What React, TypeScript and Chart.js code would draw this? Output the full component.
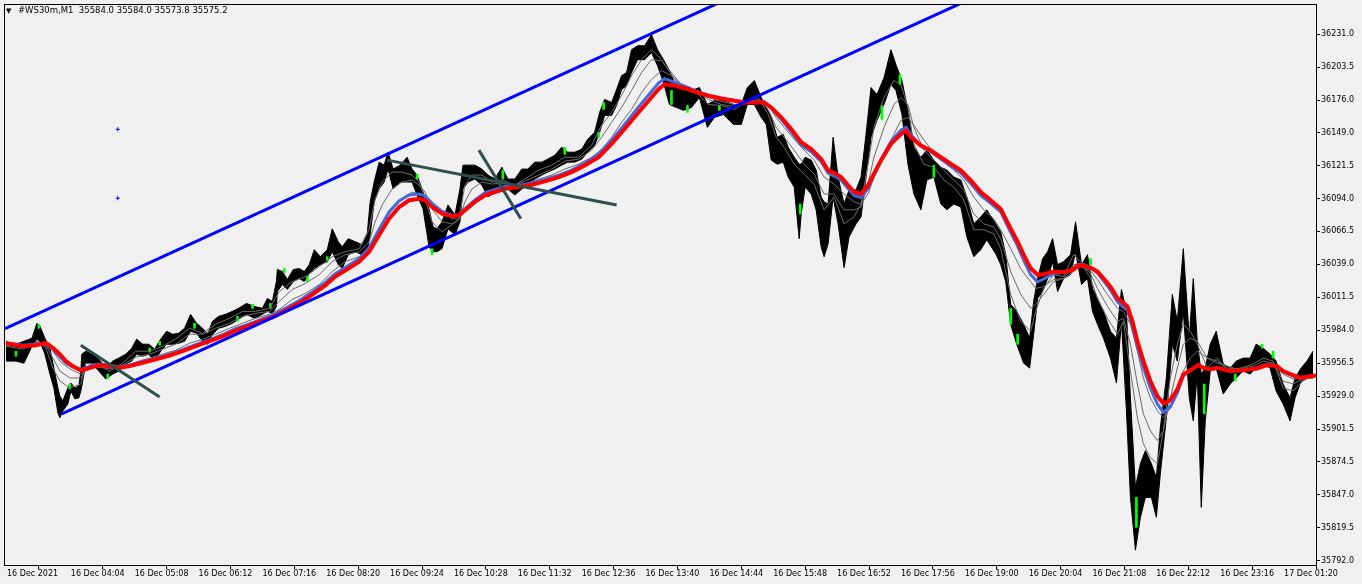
import React, { useEffect, useRef } from "react";
import { Chart, registerables } from "chart.js";

Chart.register(...registerables);

const FONT = '"DejaVu Sans", Verdana, sans-serif';
const HEADER_MARK = "▼";
const HEADER = "#WS30m,M1  35584.0 35584.0 35573.8 35575.2";

// x axis: minutes since the first label, one bar per minute
const xTickMinutes = [0, 64, 128, 192, 256, 320, 384, 448, 512, 576, 640, 704, 768, 832, 896, 960, 1024, 1088, 1152, 1216, 1280];
const xTickLabels = [
  "16 Dec 2021", "16 Dec 04:04", "16 Dec 05:08", "16 Dec 06:12", "16 Dec 07:16", "16 Dec 08:20",
  "16 Dec 09:24", "16 Dec 10:28", "16 Dec 11:32", "16 Dec 12:36", "16 Dec 13:40", "16 Dec 14:44",
  "16 Dec 15:48", "16 Dec 16:52", "16 Dec 17:56", "16 Dec 19:00", "16 Dec 20:04", "16 Dec 21:08",
  "16 Dec 22:12", "16 Dec 23:16", "17 Dec 01:20",
];
const yTickLabels = [
  "36231.0", "36203.5", "36176.0", "36149.0", "36121.5", "36094.0", "36066.5", "36039.0", "36011.5",
  "35984.0", "35956.5", "35929.0", "35901.5", "35874.5", "35847.0", "35819.5", "35792.0",
];

// price range (high / low) sampled along the session
const priceMinute = [
  -1, 3, 9, 17, 25, 30, 33, 38, 43, 47,
  51, 53, 56, 61, 64, 68, 72, 74, 75, 79,
  86, 92, 99, 106, 112, 119, 125, 130, 136, 142,
  148, 154, 160, 166, 172, 178, 184, 190, 196, 201,
  206, 212, 219, 226, 232, 240, 248, 256, 261, 266,
  270, 271, 276, 281, 287, 293, 298, 303, 308, 314,
  321, 326, 332, 336, 342, 349, 356, 361, 364, 368,
  373, 378, 382, 387, 394, 401, 406, 411, 417, 423,
  427, 431, 436, 442, 449, 454, 457, 462, 469, 476,
  482, 489, 496, 502, 509, 516, 522, 529, 536, 542,
  549, 556, 562, 569, 576, 582, 589, 594, 599, 606,
  611, 616, 621, 626, 632, 639, 646, 652, 658, 664,
  671, 678, 686, 694, 702, 709, 718, 728, 736, 742,
  749, 756, 761, 766, 772, 778, 783, 789, 794, 796,
  800, 806, 811, 816, 819, 823, 828, 833, 839, 844,
  851, 856, 861, 866, 872, 879, 886, 891, 897, 903,
  909, 916, 922, 929, 936, 942, 949, 956, 962, 969,
  976, 982, 991, 996, 1001, 1006, 1012, 1019, 1025, 1029,
  1033, 1038, 1043, 1048, 1053, 1059, 1066, 1071, 1077, 1083,
  1088, 1093, 1099, 1106, 1112, 1117, 1122, 1126, 1131, 1136,
  1141, 1147, 1152, 1156, 1162, 1168, 1173, 1179, 1185, 1189,
  1193, 1197, 1201, 1206, 1212, 1219, 1226, 1232, 1239, 1246,
  1252, 1259, 1266, 1272, 1279, 1286, 1291, 1297, 1303, 1309,
];
const priceHigh = [
  35974.9, 35973.2, 35972.4, 35974.9, 35977.4, 35989.8, 35987.3, 35977.4, 35969.1, 35952.5,
  35935.9, 35929.2, 35925.1, 35935.9, 35940.0, 35935.9, 35937.5, 35950.0, 35964.1, 35966.6,
  35964.1, 35960.0, 35952.5, 35958.3, 35960.8, 35964.1, 35969.1, 35976.6, 35972.4, 35972.4,
  35968.3, 35976.6, 35983.2, 35980.7, 35981.5, 35985.7, 35997.3, 35989.8, 35985.7, 35980.7,
  35991.5, 35995.6, 35997.3, 35999.8, 36002.3, 36006.4, 36003.9, 36002.3, 36010.6, 36008.1,
  36024.7, 36034.7, 36033.0, 36026.4, 36034.7, 36035.5, 36033.0, 36038.8, 36051.3, 36045.4,
  36051.3, 36068.7, 36057.9, 36053.7, 36060.4, 36057.9, 36055.4, 36063.7, 36091.1, 36107.7,
  36124.3, 36121.8, 36132.6, 36118.5, 36121.8, 36128.4, 36118.5, 36113.5, 36099.4, 36085.3,
  36070.3, 36068.7, 36074.5, 36088.6, 36080.3, 36101.9, 36121.8, 36121.8, 36121.8, 36118.5,
  36113.5, 36110.2, 36120.1, 36110.2, 36110.2, 36118.5, 36118.5, 36124.3, 36124.3, 36126.8,
  36130.1, 36136.7, 36132.6, 36132.6, 36135.1, 36143.4, 36149.2, 36165.8, 36176.6, 36174.1,
  36184.9, 36196.5, 36199.0, 36218.1, 36221.4, 36221.4, 36230.5, 36218.1, 36209.8, 36200.7,
  36186.5, 36184.1, 36184.1, 36186.5, 36172.4, 36175.8, 36175.8, 36172.4, 36172.4, 36186.5,
  36192.4, 36178.2, 36169.9, 36161.6, 36145.0, 36147.5, 36136.7, 36128.4, 36122.6, 36122.6,
  36128.4, 36126.0, 36117.7, 36095.2, 36091.1, 36089.4, 36145.0, 36111.8, 36089.4, 36101.1,
  36101.1, 36111.8, 36147.5, 36186.5, 36180.7, 36194.8, 36218.1, 36205.6, 36192.4, 36167.5,
  36136.7, 36128.4, 36134.3, 36126.0, 36120.1, 36117.7, 36111.8, 36109.4, 36095.2, 36072.8,
  36078.6, 36084.5, 36072.8, 36066.2, 36047.1, 36005.6, 35999.8, 35989.0, 35977.4, 36008.1,
  36027.2, 36043.8, 36049.6, 36060.4, 36038.8, 36041.3, 36047.1, 36074.5, 36038.8, 36047.1,
  36018.9, 36010.6, 35999.8, 35983.2, 35977.4, 36018.1, 35999.8, 35927.6, 35852.9, 35872.8,
  35883.6, 35872.8, 35861.2, 35902.7, 35944.2, 36013.9, 35991.5, 36052.1, 35977.4, 36027.2,
  35974.9, 35947.5, 35952.5, 35972.4, 35983.2, 35955.8, 35952.5, 35958.3, 35960.8, 35960.8,
  35972.4, 35969.1, 35964.1, 35958.3, 35939.2, 35927.6, 35944.2, 35952.5, 35958.3, 35966.6,
];
const priceLow = [
  35958.3, 35958.3, 35958.3, 35956.6, 35970.7, 35976.6, 35974.9, 35964.1, 35947.5, 35935.9,
  35915.1, 35911.0, 35916.8, 35922.6, 35933.4, 35926.8, 35927.6, 35933.4, 35937.5, 35956.6,
  35955.8, 35950.0, 35943.4, 35947.5, 35950.0, 35955.8, 35958.3, 35964.1, 35962.4, 35964.1,
  35958.3, 35966.6, 35972.4, 35972.4, 35973.2, 35974.9, 35983.2, 35981.5, 35974.9, 35972.4,
  35980.7, 35985.7, 35987.3, 35989.8, 35993.2, 35997.3, 35994.0, 35997.3, 35999.8, 35998.1,
  36003.9, 36016.4, 36022.2, 36018.1, 36024.7, 36027.2, 36024.7, 36031.3, 36035.5, 36038.8,
  36041.3, 36049.6, 36038.8, 36035.5, 36047.1, 36049.6, 36047.1, 36049.6, 36063.7, 36091.1,
  36101.9, 36107.7, 36118.5, 36101.9, 36107.7, 36107.7, 36107.7, 36096.9, 36085.3, 36053.7,
  36049.6, 36049.6, 36052.1, 36068.7, 36063.7, 36074.5, 36101.9, 36107.7, 36110.2, 36105.2,
  36095.2, 36099.4, 36101.9, 36101.9, 36096.9, 36101.9, 36105.2, 36110.2, 36113.5, 36116.0,
  36118.5, 36121.8, 36124.3, 36124.3, 36126.8, 36132.6, 36138.4, 36149.2, 36163.3, 36163.3,
  36171.6, 36184.9, 36188.2, 36199.0, 36209.8, 36209.8, 36215.6, 36204.8, 36190.7, 36172.4,
  36169.9, 36167.5, 36169.9, 36178.2, 36153.3, 36161.6, 36164.1, 36155.8, 36155.8, 36172.4,
  36172.4, 36161.6, 36155.8, 36126.0, 36122.6, 36124.3, 36111.8, 36103.5, 36060.4, 36081.1,
  36103.5, 36097.7, 36084.5, 36053.7, 36045.4, 36056.2, 36095.2, 36072.8, 36036.3, 36062.0,
  36072.8, 36078.6, 36111.8, 36145.0, 36159.2, 36172.4, 36189.0, 36184.1, 36164.1, 36122.6,
  36097.7, 36084.5, 36109.4, 36111.8, 36089.4, 36084.5, 36089.4, 36086.9, 36062.0, 36045.4,
  36051.3, 36059.6, 36047.9, 36038.8, 36024.7, 35989.0, 35972.4, 35956.6, 35952.5, 35980.7,
  36010.6, 36016.4, 36027.2, 36041.3, 36016.4, 36027.2, 36030.5, 36049.6, 36022.2, 36027.2,
  35999.8, 35989.0, 35977.4, 35960.8, 35940.0, 35991.5, 35916.8, 35844.6, 35800.6, 35828.0,
  35844.6, 35844.6, 35828.0, 35864.5, 35911.0, 35972.4, 35958.3, 35999.8, 35927.6, 35908.5,
  35947.5, 35836.3, 35908.5, 35950.0, 35952.5, 35930.9, 35939.2, 35944.2, 35950.0, 35947.5,
  35952.5, 35955.8, 35952.5, 35933.4, 35922.6, 35908.5, 35927.6, 35941.7, 35944.2, 35944.2,
];

// green (bullish) candle bodies that stand out
const upMinute = [9, 32, 63, 101, 143, 153, 188, 231, 246, 264, 278, 301, 321, 411, 426, 497, 559, 593, 598, 666, 682, 714, 795, 877, 895, 929, 1006, 1013, 1086, 1132, 1200, 1231, 1258, 1269];
const upHigh = [35966.6, 35989.0, 35939.2, 35947.5, 35969.1, 35974.9, 35989.8, 35995.6, 36005.6, 36006.4, 36035.5, 36028.8, 36045.4, 36114.3, 36052.1, 36117.7, 36136.7, 36149.2, 36174.1, 36184.1, 36171.6, 36171.6, 36089.4, 36171.6, 36197.3, 36121.8, 36002.3, 35980.7, 36043.8, 35844.6, 35939.2, 35947.5, 35972.4, 35966.6];
const upLow = [35962.4, 35985.7, 35935.1, 35943.4, 35965.8, 35971.6, 35985.7, 35991.5, 36002.3, 36002.3, 36032.2, 36024.7, 36042.1, 36110.2, 36047.1, 36110.2, 36130.9, 36145.0, 36168.3, 36172.4, 36165.8, 36167.5, 36081.1, 36160.0, 36189.0, 36111.8, 35989.0, 35972.4, 36038.8, 35819.7, 35914.3, 35941.7, 35969.1, 35960.8];

// slow moving averages (red = slowest, blue = next)
const maMinute = [
  -1, 16, 29, 39, 46, 53, 59, 66, 74, 83,
  93, 103, 113, 123, 136, 149, 163, 176, 189, 203,
  216, 229, 243, 256, 266, 279, 293, 306, 319, 329,
  339, 353, 363, 373, 383, 393, 403, 413, 419, 426,
  436, 446, 453, 459, 469, 479, 489, 499, 513, 526,
  539, 553, 566, 579, 593, 606, 619, 633, 643, 653,
  659, 669, 683, 689, 703, 716, 729, 739, 749, 759,
  766, 776, 786, 796, 806, 816, 823, 829, 836, 843,
  849, 856, 863, 869, 876, 886, 896, 901, 906, 916,
  926, 936, 946, 956, 966, 976, 986, 996, 1006, 1013,
  1019, 1026, 1033, 1039, 1049, 1059, 1068, 1073, 1079, 1086,
  1093, 1099, 1106, 1113, 1118, 1123, 1128, 1133, 1139, 1146,
  1153, 1159, 1166, 1173, 1179, 1186, 1194, 1199, 1206, 1213,
  1219, 1226, 1239, 1253, 1263, 1273, 1279, 1289, 1296, 1306,
  1312,
];
const redMA = [
  35973.4, 35970.7, 35971.6, 35973.4, 35969.3, 35964.1, 35958.3, 35954.1, 35950.6, 35952.7,
  35955.0, 35954.1, 35952.7, 35954.1, 35956.9, 35959.7, 35963.0, 35966.6, 35970.7, 35974.9,
  35979.0, 35983.8, 35988.2, 35992.3, 35994.8, 36000.4, 36006.7, 36013.7, 36021.4, 36028.8,
  36033.8, 36041.3, 36049.6, 36063.5, 36077.2, 36086.9, 36092.5, 36093.8, 36092.5, 36086.9,
  36081.4, 36079.2, 36080.1, 36084.2, 36091.1, 36096.7, 36099.4, 36102.1, 36103.5, 36105.5,
  36108.3, 36111.8, 36116.0, 36121.6, 36128.4, 36139.5, 36151.9, 36165.8, 36175.5, 36185.1,
  36189.3, 36188.2, 36185.1, 36183.2, 36179.7, 36177.4, 36175.5, 36174.1, 36174.1, 36174.1,
  36169.9, 36161.6, 36151.9, 36140.9, 36135.3, 36127.0, 36117.4, 36115.2, 36111.8, 36105.0,
  36099.4, 36098.0, 36105.0, 36114.6, 36125.7, 36139.5, 36147.8, 36150.6, 36145.0, 36138.2,
  36134.0, 36128.4, 36122.9, 36117.4, 36109.1, 36099.4, 36092.5, 36085.3, 36068.9, 36057.9,
  36046.9, 36035.7, 36030.3, 36030.8, 36033.0, 36032.4, 36034.4, 36038.0, 36038.0, 36036.3,
  36033.0, 36027.4, 36020.5, 36010.8, 36007.5, 36003.9, 35991.5, 35974.9, 35958.3, 35941.7,
  35929.2, 35922.9, 35925.7, 35934.8, 35947.3, 35950.6, 35955.0, 35952.7, 35951.4, 35952.7,
  35951.4, 35950.0, 35950.6, 35952.2, 35955.0, 35954.1, 35950.0, 35946.7, 35944.4, 35945.6,
  35946.4,
];
const blueMA = [
  35973.2, 35971.6, 35972.4, 35972.0, 35968.3, 35962.0, 35956.6, 35953.3, 35951.2, 35954.1,
  35955.8, 35954.6, 35953.3, 35955.0, 35957.9, 35960.8, 35964.1, 35967.8, 35972.0, 35976.1,
  35980.3, 35985.3, 35989.4, 35993.6, 35996.5, 36002.3, 36008.9, 36016.0, 36023.9, 36031.3,
  36036.3, 36043.8, 36052.9, 36068.3, 36082.8, 36091.9, 36096.9, 36097.7, 36096.1, 36089.9,
  36083.2, 36079.9, 36080.3, 36085.3, 36092.8, 36098.6, 36101.5, 36104.0, 36104.8, 36106.9,
  36109.8, 36113.5, 36117.7, 36123.5, 36130.9, 36142.6, 36155.8, 36170.4, 36180.3, 36190.3,
  36194.0, 36191.1, 36186.5, 36184.1, 36179.9, 36177.4, 36175.8, 36174.5, 36174.9, 36174.5,
  36169.1, 36160.0, 36149.6, 36138.4, 36133.0, 36124.7, 36115.2, 36112.7, 36109.4, 36102.3,
  36096.5, 36094.8, 36102.3, 36113.5, 36126.4, 36141.7, 36150.9, 36153.3, 36147.1, 36138.0,
  36133.0, 36126.8, 36121.0, 36115.2, 36106.5, 36096.5, 36089.9, 36082.8, 36065.8, 36054.2,
  36042.5, 36030.5, 36024.3, 36026.8, 36031.3, 36032.2, 36034.7, 36038.8, 36038.8, 36036.3,
  36031.8, 36025.5, 36017.6, 36007.7, 36003.9, 36000.6, 35987.3, 35969.9, 35952.9, 35935.9,
  35922.6, 35915.6, 35920.1, 35931.7, 35945.8, 35950.8, 35955.4, 35952.9, 35951.2, 35952.9,
  35951.2, 35950.0, 35950.4, 35952.5, 35955.4, 35954.1, 35949.6, 35945.8, 35943.8, 35945.4,
  35946.3,
];

// faster averages of the ribbon (thin grey lines)
const ribbonMinute = [
  -1, 16, 31, 39, 46, 53, 63, 74, 79, 89,
  103, 116, 129, 143, 156, 169, 183, 196, 209, 223,
  236, 249, 263, 273, 286, 299, 313, 326, 339, 353,
  363, 369, 376, 386, 396, 406, 413, 419, 426, 436,
  446, 453, 459, 466, 476, 486, 496, 509, 519, 533,
  546, 559, 573, 586, 596, 606, 616, 626, 636, 646,
  656, 666, 676, 689, 703, 716, 729, 743, 753, 763,
  771, 779, 789, 799, 809, 819, 829, 839, 849, 856,
  863, 869, 879, 889, 896, 903, 909, 919, 929, 939,
  949, 959, 969, 979, 989, 996, 1006, 1016, 1026, 1031,
  1039, 1049, 1059, 1069, 1076, 1086, 1093, 1103, 1113, 1119,
  1126, 1133, 1139, 1146, 1153, 1159, 1166, 1173, 1179, 1186,
  1193, 1203, 1213, 1223, 1236, 1249, 1259, 1269, 1279, 1289,
  1299, 1311,
];
const ribbonFast = [
  35970.7, 35968.3, 35974.9, 35969.1, 35952.5, 35941.7, 35935.9, 35939.2, 35956.6, 35955.8,
  35950.0, 35956.6, 35966.6, 35966.6, 35970.7, 35976.6, 35985.7, 35981.5, 35989.0, 35994.0,
  35999.8, 35999.8, 36002.3, 36016.4, 36024.7, 36028.8, 36037.1, 36045.4, 36049.6, 36052.1,
  36068.7, 36093.6, 36107.7, 36116.0, 36116.0, 36113.5, 36107.7, 36093.6, 36074.5, 36066.2,
  36072.0, 36077.0, 36105.2, 36113.5, 36113.5, 36107.7, 36109.4, 36105.2, 36110.2, 36117.7,
  36121.8, 36128.4, 36128.4, 36138.4, 36155.0, 36165.8, 36179.9, 36196.5, 36209.8, 36218.1,
  36209.8, 36197.3, 36186.5, 36184.1, 36172.4, 36171.6, 36168.3, 36175.8, 36178.2, 36164.1,
  36145.0, 36136.7, 36122.6, 36114.3, 36106.0, 36084.5, 36095.2, 36072.8, 36078.6, 36089.4,
  36122.6, 36153.3, 36178.2, 36192.4, 36189.0, 36169.9, 36139.2, 36122.6, 36120.1, 36109.4,
  36103.5, 36092.8, 36067.9, 36067.9, 36064.5, 36052.1, 36013.9, 35991.5, 35983.2, 35999.8,
  36018.9, 36030.5, 36028.8, 36047.1, 36041.3, 36027.2, 36010.6, 35994.0, 35980.7, 35991.5,
  35950.0, 35911.0, 35889.4, 35877.8, 35872.8, 35900.2, 35944.2, 35972.4, 35989.0, 35983.2,
  35972.4, 35952.5, 35960.8, 35950.0, 35952.5, 35955.8, 35960.8, 35958.3, 35935.9, 35933.4,
  35941.7, 35947.5,
];
const ribbonMid = [
  35971.6, 35969.9, 35974.1, 35971.6, 35960.8, 35950.0, 35944.2, 35944.2, 35952.5, 35955.0,
  35951.7, 35955.0, 35961.6, 35964.1, 35968.3, 35972.4, 35980.7, 35980.7, 35985.7, 35989.8,
  35995.6, 35998.1, 35999.8, 36008.1, 36018.1, 36023.0, 36030.5, 36041.3, 36047.1, 36049.6,
  36057.9, 36074.5, 36088.6, 36101.9, 36107.7, 36109.4, 36105.2, 36099.4, 36085.3, 36074.5,
  36072.8, 36076.2, 36091.1, 36101.9, 36107.7, 36106.0, 36106.9, 36105.2, 36108.5, 36113.5,
  36118.5, 36125.1, 36126.8, 36134.3, 36145.0, 36157.5, 36169.9, 36184.1, 36199.0, 36209.8,
  36209.0, 36199.0, 36189.0, 36184.9, 36176.6, 36172.4, 36170.8, 36174.1, 36176.6, 36168.3,
  36153.3, 36145.0, 36134.3, 36122.6, 36114.3, 36097.7, 36097.7, 36084.5, 36084.5, 36086.9,
  36106.0, 36128.4, 36153.3, 36172.4, 36178.2, 36172.4, 36153.3, 36134.3, 36126.0, 36117.7,
  36109.4, 36101.1, 36081.1, 36072.8, 36070.3, 36060.4, 36033.0, 36013.9, 36002.3, 36005.6,
  36013.9, 36024.7, 36027.2, 36038.8, 36039.6, 36031.3, 36018.9, 36003.9, 35991.5, 35994.0,
  35972.4, 35939.2, 35914.3, 35900.2, 35891.9, 35900.2, 35927.6, 35952.5, 35972.4, 35977.4,
  35974.9, 35960.8, 35958.3, 35952.5, 35951.7, 35954.1, 35958.3, 35956.6, 35941.7, 35939.2,
  35943.4, 35945.8,
];
const ribbonSlow = [
  35972.4, 35970.7, 35973.2, 35972.4, 35966.6, 35958.3, 35951.7, 35947.5, 35950.0, 35953.3,
  35952.5, 35953.3, 35957.5, 35960.8, 35964.1, 35967.4, 35973.2, 35976.6, 35980.7, 35985.7,
  35989.8, 35994.0, 35997.3, 36001.5, 36009.8, 36014.7, 36022.2, 36033.0, 36041.3, 36045.4,
  36051.3, 36060.4, 36072.0, 36085.3, 36093.6, 36099.4, 36097.7, 36096.9, 36091.1, 36082.8,
  36077.0, 36077.0, 36082.8, 36089.4, 36096.9, 36101.1, 36103.5, 36104.4, 36106.0, 36110.2,
  36113.5, 36118.5, 36122.6, 36128.4, 36135.1, 36145.0, 36157.5, 36168.3, 36182.4, 36193.2,
  36200.7, 36196.5, 36189.0, 36184.1, 36178.2, 36174.9, 36172.4, 36173.3, 36174.9, 36171.6,
  36161.6, 36153.3, 36143.4, 36134.3, 36126.0, 36111.8, 36106.0, 36097.7, 36091.1, 36089.4,
  36097.7, 36111.8, 36130.9, 36147.5, 36159.2, 36161.6, 36155.0, 36142.6, 36132.6, 36124.3,
  36117.7, 36109.4, 36095.2, 36084.5, 36077.0, 36067.9, 36052.1, 36035.5, 36024.7, 36018.9,
  36020.5, 36026.4, 36027.2, 36033.0, 36037.1, 36033.8, 36026.4, 36013.9, 36002.3, 35999.8,
  35989.0, 35966.6, 35944.2, 35927.6, 35916.8, 35911.0, 35919.3, 35933.4, 35950.0, 35960.8,
  35966.6, 35960.8, 35956.6, 35954.1, 35950.8, 35952.5, 35955.8, 35955.0, 35947.5, 35943.4,
  35944.2, 35945.8,
];

// drawn objects: channel rays, trend lines and two cross markers
const channelUpperMinute = [-2, 800];
const channelUpperPrice = [35985.3, 36290.1];
const channelLowerMinute = [54.3, 1000];
const channelLowerPrice = [35914.1, 36273.5];
const trend1Minute = [74, 153];
const trend1Price = [35971.6, 35928.4];
const trend2Minute = [381, 611];
const trend2Price = [36126.0, 36088.6];
const trend3Minute = [473, 515];
const trend3Price = [36134.3, 36077.0];
const markerMinute = [111, 111];
const markerPrice = [36151.7, 36094.2];

const xy = (xs: number[], ys: number[]) => xs.map((x, i) => ({ x, y: ys[i] }));

function lineSet(label: string, data: any[], color: string, width: number, order: number, extra: any = {}) {
  return {
    type: "line",
    label,
    data,
    borderColor: color,
    backgroundColor: color,
    borderWidth: width,
    pointRadius: 0,
    tension: 0,
    fill: false,
    order,
    clip: 0,
    ...extra,
  };
}

export default function App() {
  const ref = useRef<HTMLCanvasElement>(null);

  useEffect(() => {
    document.body.style.margin = "0";
    document.body.style.background = "#f0f0f0";
    const canvas = ref.current;
    if (!canvas) return;

    const framePlugin = {
      id: "mtFrame",
      beforeDraw(chart: any) {
        const { ctx, width, height } = chart;
        ctx.save();
        ctx.fillStyle = "#f0f0f0";
        ctx.fillRect(0, 0, width, height);
        ctx.restore();
      },
      afterDraw(chart: any) {
        const { ctx, chartArea: a } = chart;
        ctx.save();
        ctx.strokeStyle = "#000";
        ctx.lineWidth = 1;
        ctx.strokeRect(a.left - 0.5, a.top - 0.5, a.right - a.left + 1, a.bottom - a.top + 1);
        ctx.fillStyle = "#000";
        ctx.textBaseline = "middle";
        ctx.textAlign = "left";
        ctx.font = `7px ${FONT}`;
        ctx.fillText(HEADER_MARK, 6, 11);
        ctx.font = `8.5px ${FONT}`;
        ctx.fillText(HEADER, 18, 11);
        ctx.restore();
      },
    };

    const datasets: any[] = [
      lineSet("High", xy(priceMinute, priceHigh), "#000", 1, 20, { fill: "+1", backgroundColor: "#000" }),
      lineSet("Low", xy(priceMinute, priceLow), "#000", 1, 20),
      {
        type: "bar",
        label: "Up candles",
        data: upMinute.map((x, i) => ({ x, y: [upLow[i], upHigh[i]] })),
        backgroundColor: "#00ff00",
        borderWidth: 0,
        barThickness: 2,
        order: 15,
        clip: 0,
      },
      lineSet("Ribbon fast", xy(ribbonMinute, ribbonFast), "#6a6a6a", 1, 12),
      lineSet("Ribbon mid", xy(ribbonMinute, ribbonMid), "#6a6a6a", 1, 11),
      lineSet("Ribbon slow", xy(ribbonMinute, ribbonSlow), "#6a6a6a", 1, 10),
      lineSet("Blue MA", xy(maMinute, blueMA), "#4169e1", 3, 6),
      lineSet("Red MA", xy(maMinute, redMA), "#ff0000", 4, 5),
      lineSet("Channel upper", xy(channelUpperMinute, channelUpperPrice), "#0000ff", 3, 2),
      lineSet("Channel lower", xy(channelLowerMinute, channelLowerPrice), "#0000ff", 3, 2),
      lineSet("Trend 1", xy(trend1Minute, trend1Price), "#2f4f4f", 3, 1),
      lineSet("Trend 2", xy(trend2Minute, trend2Price), "#2f4f4f", 3, 1),
      lineSet("Trend 3", xy(trend3Minute, trend3Price), "#2f4f4f", 3, 1),
      {
        type: "scatter",
        label: "Markers",
        data: xy(markerMinute, markerPrice),
        pointStyle: "cross",
        pointRadius: 2,
        borderWidth: 1,
        borderColor: "#0000ff",
        backgroundColor: "#0000ff",
        order: 0,
        clip: 0,
      },
    ];

    const tickFont = { family: FONT, size: 8 };

    const chart = new Chart(canvas, {
      type: "line",
      data: { datasets },
      plugins: [framePlugin],
      options: {
        responsive: false,
        animation: false,
        events: [],
        devicePixelRatio: 1,
        layout: { padding: { left: 2, top: 2, right: 0, bottom: 0 } },
        plugins: { legend: { display: false }, tooltip: { enabled: false }, title: { display: false } },
        scales: {
          x: {
            type: "linear",
            min: -2,
            max: 1312,
            offset: false,
            afterBuildTicks: (s: any) => {
              s.ticks = xTickMinutes.map((v) => ({ value: v }));
            },
            afterFit: (s: any) => {
              s.height = 19;
              s.paddingLeft = 0;
              s.paddingRight = 0;
              s.paddingTop = 0;
              s.paddingBottom = 0;
            },
            ticks: {
              autoSkip: false,
              maxRotation: 0,
              minRotation: 0,
              align: "start",
              padding: 0,
              color: "#000",
              font: tickFont,
              callback: (_v: any, i: number) => xTickLabels[i],
            },
            grid: { drawOnChartArea: false, drawTicks: true, tickLength: 4, color: "#000" },
            border: { display: false },
          },
          y: {
            type: "linear",
            position: "right",
            min: 35788.2,
            max: 36255.4,
            afterBuildTicks: (s: any) => {
              s.ticks = yTickLabels.map((l) => ({ value: parseFloat(l) }));
            },
            afterFit: (s: any) => {
              s.width = 46;
              s.paddingTop = 0;
              s.paddingBottom = 0;
              s.paddingLeft = 0;
              s.paddingRight = 0;
            },
            ticks: {
              autoSkip: false,
              padding: 1,
              color: "#000",
              font: tickFont,
              callback: (_v: any, i: number) => yTickLabels[i],
            },
            grid: { drawOnChartArea: false, drawTicks: true, tickLength: 4, color: "#000" },
            border: { display: false },
          },
        },
      } as any,
    });

    return () => chart.destroy();
  }, []);

  return (
    <canvas ref={ref} width={1362} height={584} style={{ display: "block", width: 1362, height: 584 }} />
  );
}
